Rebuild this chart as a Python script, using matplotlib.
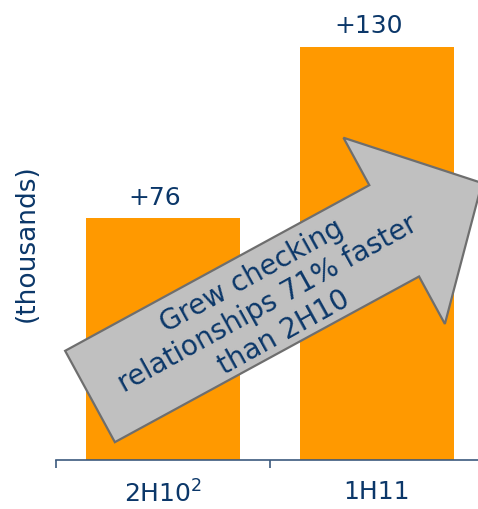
import matplotlib
matplotlib.use("Agg")
import matplotlib.pyplot as plt
from matplotlib.patches import FancyArrow

# ---- data ----
categories = ["2H10$^{2}$", "1H11"]
values = [76, 130]
value_labels = ["+76", "+130"]
y_label = "(thousands)"
arrow_text = "Grew checking\nrelationships 71% faster\nthan 2H10"

# ---- style ----
ORANGE = "#FF9900"
NAVY = "#0B3769"
AXIS = "#3C5A7E"
ARROW_FILL = "#C0C0C0"
ARROW_EDGE = "#6E6E6E"

W, H, DPI = 478, 510, 100
fig = plt.figure(figsize=(W / DPI, H / DPI), dpi=DPI)
ax = fig.add_axes([56 / W, 49 / H, 428 / W, 461 / H])

x = list(range(len(categories)))
ax.bar(x, values, width=0.72, color=ORANGE, zorder=1)
ax.set_xlim(-0.5, len(categories) - 0.5)
ax.set_ylim(0, 145)

for s in ["top", "right", "left"]:
    ax.spines[s].set_visible(False)
ax.spines["bottom"].set_color(AXIS)
ax.spines["bottom"].set_linewidth(1.2)
ax.set_yticks([])
ax.set_xticks(x)
ax.set_xticklabels(categories, fontsize=18, color=NAVY)
ax.tick_params(axis="x", which="major", length=0, pad=14)
ax.set_xticks([i - 0.5 for i in range(len(categories) + 1)], minor=True)
ax.tick_params(axis="x", which="minor", length=6, width=1.2, color=AXIS, direction="out")

for i, (v, lab) in enumerate(zip(values, value_labels)):
    ax.annotate(lab, (i, v), xytext=(-6, 7), textcoords="offset points",
                ha="center", va="bottom", fontsize=18, color=NAVY)

fig.text(27 / W, (H - 243) / H, y_label, rotation=90, ha="center", va="center",
         fontsize=19, color=NAVY)

# ---- annotation arrow (pixel geometry converted to inches) ----
def px(xp, yp):
    return xp / DPI, (H - yp) / DPI

tx, ty = px(90, 397.5)
ex, ey = px(482, 184)
arrow = FancyArrow(tx, ty, ex - tx, ey - ty, width=1.04, head_width=2.12,
                   head_length=1.0, length_includes_head=True,
                   facecolor=ARROW_FILL, edgecolor=ARROW_EDGE, linewidth=1.6,
                   transform=fig.dpi_scale_trans, zorder=5, clip_on=False)
fig.add_artist(arrow)

cx, cy = px(268, 304)
fig.text(cx / (W / DPI), cy / (H / DPI), arrow_text, rotation=29,
         rotation_mode="anchor", ha="center", va="center", multialignment="center",
         fontsize=20, color=NAVY, zorder=6, linespacing=1.2)

fig.savefig("out.png", dpi=DPI)
